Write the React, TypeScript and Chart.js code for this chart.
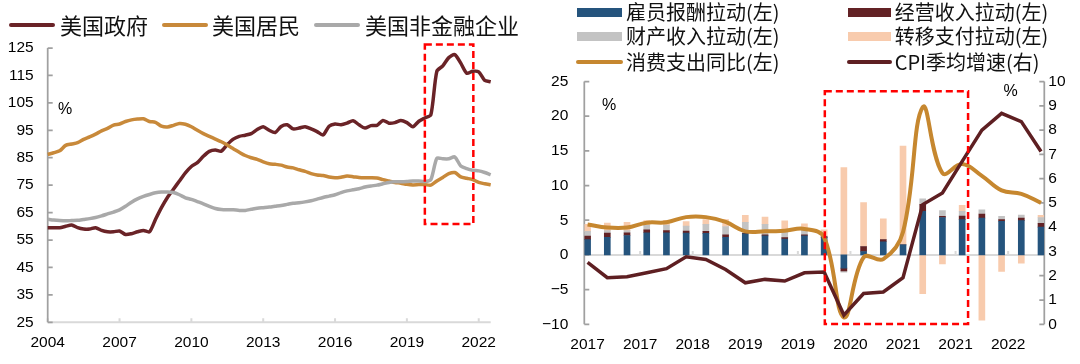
import React, { useEffect, useRef } from 'react';
import { Chart, registerables } from 'chart.js';

Chart.register(...registerables);

const LATIN = '"Liberation Sans", Arial, sans-serif';
const CJK = '"Noto Sans CJK SC", "Noto Sans", sans-serif';

// ---------------- Left chart: debt ratios (quarterly, 2004Q1 - 2022Q3) ----------------
const leftQuarters: string[] = [];
for (let y = 2004; y <= 2022; y++) for (let q = 1; q <= 4; q++) leftQuarters.push(`${y}Q${q}`);
leftQuarters.length = 75;

const leftTickYears = ['2004', '2007', '2010', '2013', '2016', '2019', '2022'];

const govDebt = [
  59.5, 59.5, 59.5, 60.0, 60.5, 59.5, 59.0, 59.0, 59.5, 58.5,
  58.0, 58.0, 58.3, 57.0, 57.3, 58.0, 58.5, 58.0, 62.5, 66.8,
  70.5, 73.5, 76.5, 79.5, 81.8, 83.2, 85.5, 87.3, 87.8, 87.4,
  89.8, 91.8, 92.8, 93.2, 93.8, 95.3, 96.3, 95.0, 94.2, 96.4,
  97.0, 95.5, 95.8, 96.3, 95.5, 94.5, 93.3, 96.5, 97.3, 97.0,
  97.6, 98.5, 97.0, 95.8, 96.7, 96.8, 98.6, 97.6, 97.8, 98.6,
  97.8, 96.3, 98.3, 99.5, 100.6, 116.5, 118.5, 121.5, 122.6, 119.5,
  115.8, 116.5, 116.3, 113.2, 112.7,
];

const householdDebt = [
  86.2, 86.8, 87.5, 89.5, 90.0, 90.5, 91.7, 92.6, 93.6, 94.8,
  95.7, 96.9, 97.3, 98.2, 98.8, 99.1, 99.2, 98.2, 97.9, 96.5,
  96.2, 96.8, 97.5, 97.2, 96.3, 95.0, 93.8, 92.8, 91.8, 90.8,
  89.6, 88.3, 87.0, 85.8, 85.0, 84.4, 83.5, 82.8, 82.6, 82.3,
  81.6, 81.3, 80.6, 80.0, 79.2, 78.7, 78.5, 78.0, 77.7, 77.9,
  78.3, 78.1, 77.8, 77.7, 77.7, 77.6, 77.0, 76.5, 76.0, 75.7,
  75.3, 75.1, 75.2, 75.2, 75.0, 76.5, 77.8, 79.2, 79.6, 78.0,
  77.5, 77.0, 76.0, 75.5, 75.1,
];

const corpDebt = [
  62.6, 62.3, 62.1, 62.0, 62.1, 62.2, 62.5, 62.8, 63.2, 63.8,
  64.5, 65.2, 66.0, 67.3, 68.8, 70.0, 70.9, 71.6, 72.2, 72.5,
  72.5, 72.3, 71.5, 70.4, 69.8, 69.0, 68.2, 67.3, 66.5, 66.1,
  66.0, 66.0, 65.8, 65.8, 66.2, 66.6, 66.8, 67.0, 67.3, 67.6,
  68.0, 68.4, 68.6, 68.9, 69.3, 69.9, 70.5, 71.0, 71.5, 72.3,
  72.9, 73.3, 73.7, 74.3, 74.7, 75.0, 75.5, 76.0, 76.2, 76.2,
  76.3, 76.5, 76.5, 76.3, 77.0, 84.8, 84.6, 84.6, 85.3, 82.0,
  81.0, 80.4, 80.2, 79.6, 78.8,
];

// ---------------- Right chart: income contributions (quarterly, 2017Q1 - 2022Q4) ----------------
const rightQuarters: string[] = [];
for (let y = 2017; y <= 2022; y++) for (let q = 1; q <= 4; q++) rightQuarters.push(`${y}Q${q}`);

const rightTickMonths = [0, 8, 16, 24, 32, 40, 48, 56, 64];
const rightTickLabels = ['2017', '2017', '2018', '2019', '2019', '2020', '2021', '2021', '2022'];

const compensation = [2.2, 2.55, 2.8, 3.2, 3.2, 3.15, 3.1, 2.55, 3.05, 2.75, 2.3, 2.75, 2.5, -1.9, 0.5, 1.9, 1.45, 6.3, 5.4, 5.1, 5.3, 4.85, 4.95, 4.0];
const business = [0.5, 0.6, 0.4, 0.4, 0.3, 0.3, 0.3, 0.35, 0.05, 0.15, 0.2, 0.15, 0.15, -0.4, 0.7, 0.3, 0.0, 1.0, 0.15, 0.5, 0.6, 0.25, 0.35, 0.55];
const propertyIncome = [0.7, 0.35, 0.3, 0.65, 0.8, 0.7, 1.0, 1.2, 1.6, 1.5, 1.1, 0.7, 0.1, -0.2, 0.05, 0.0, 0.05, 0.8, 0.85, 0.7, 0.6, 0.47, 0.45, 0.85];
const transfer = [1.0, 1.1, 1.2, 0.7, 0.7, 0.65, 0.7, 1.0, 1.0, 1.05, 1.3, 0.9, 0.85, 12.6, 6.3, 3.0, 14.2, -5.6, -1.3, 0.85, -9.4, -2.36, -1.2, 0.3];
const consumptionYoY = [4.4, 3.95, 3.95, 4.65, 4.7, 5.45, 5.45, 4.75, 3.4, 3.4, 3.5, 3.75, 2.5, -9.0, -0.35, -0.6, 3.3, 21.3, 11.8, 13.1, 11.4, 9.3, 8.8, 7.5];
const cpiQuarterly = [2.55, 1.92, 1.96, 2.12, 2.29, 2.78, 2.67, 2.26, 1.71, 1.85, 1.78, 2.12, 2.15, 0.38, 1.27, 1.33, 1.92, 4.93, 5.41, 6.71, 8.0, 8.69, 8.35, 7.12];

const C_GOV = '#6A2327';
const C_HH = '#C8893A';
const C_CORP = '#A9A9A9';
const C_BLUE = '#25547D';
const C_BIZ = '#632225';
const C_PROP = '#C3C3C3';
const C_TRANS = '#F8CBAD';
const C_CONS = '#C6872F';
const C_CPI = '#5E1F22';

const toXY = (arr: number[]) => arr.map((v, i) => ({ x: i * 3, y: v }));

const leftAxesPlugin = {
  id: 'leftAxes',
  beforeDatasetsDraw(chart: any) {
    const { ctx, chartArea: a, scales } = chart;
    ctx.save();
    ctx.strokeStyle = '#D9D9D9';
    ctx.lineWidth = 2;
    ctx.beginPath();
    ctx.moveTo(a.left, a.bottom);
    ctx.lineTo(a.right, a.bottom);
    for (let i = 0; i < leftQuarters.length; i += 12) {
      const px = scales.x.getPixelForValue(i);
      ctx.moveTo(px, a.bottom);
      ctx.lineTo(px, a.bottom - 4);
    }
    ctx.stroke();
    ctx.strokeStyle = '#A0A0A0';
    ctx.lineWidth = 1.75;
    ctx.beginPath();
    ctx.moveTo(a.left, a.top);
    ctx.lineTo(a.left, a.bottom);
    scales.y.ticks.forEach((t: any) => {
      const py = scales.y.getPixelForValue(t.value);
      ctx.moveTo(a.left, py);
      ctx.lineTo(a.left + 5, py);
    });
    ctx.stroke();
    ctx.restore();
  },
  afterDatasetsDraw(chart: any) {
    const { ctx, scales } = chart;
    const x0 = scales.x.getPixelForValue(63.0);
    const x1 = scales.x.getPixelForValue(71.1);
    const y0 = scales.y.getPixelForValue(126.3);
    const y1 = scales.y.getPixelForValue(60.8);
    ctx.save();
    ctx.strokeStyle = '#FF0000';
    ctx.lineWidth = 2.5;
    ctx.setLineDash([7, 4]);
    ctx.strokeRect(x0, y0, x1 - x0, y1 - y0);
    ctx.restore();
  },
};

const rightAxesPlugin = {
  id: 'rightAxes',
  beforeDatasetsDraw(chart: any) {
    const { ctx, chartArea: a, scales } = chart;
    ctx.save();
    const zy = scales.y.getPixelForValue(0);
    ctx.strokeStyle = '#D9D9D9';
    ctx.lineWidth = 2;
    ctx.beginPath();
    ctx.moveTo(a.left, zy);
    ctx.lineTo(a.right, zy);
    rightTickMonths.forEach((m) => {
      const px = scales.x.getPixelForValue(m);
      ctx.moveTo(px, zy);
      ctx.lineTo(px, zy - 4);
    });
    ctx.stroke();
    ctx.strokeStyle = '#A0A0A0';
    ctx.lineWidth = 1.75;
    ctx.beginPath();
    ctx.moveTo(a.left, a.top);
    ctx.lineTo(a.left, a.bottom);
    scales.y.ticks.forEach((t: any) => {
      const py = scales.y.getPixelForValue(t.value);
      ctx.moveTo(a.left, py);
      ctx.lineTo(a.left + 5, py);
    });
    ctx.moveTo(a.right, a.top);
    ctx.lineTo(a.right, a.bottom);
    scales.y1.ticks.forEach((t: any) => {
      const py = scales.y1.getPixelForValue(t.value);
      ctx.moveTo(a.right, py);
      ctx.lineTo(a.right - 5, py);
    });
    ctx.stroke();
    ctx.restore();
  },
  afterDatasetsDraw(chart: any) {
    const { ctx, scales } = chart;
    const x0 = scales.x.getPixelForValue(36.1);
    const x1 = scales.x.getPixelForValue(57.9);
    const y0 = scales.y.getPixelForValue(23.6);
    const y1 = scales.y.getPixelForValue(-9.95);
    ctx.save();
    ctx.strokeStyle = '#FF0000';
    ctx.lineWidth = 2.5;
    ctx.setLineDash([7, 4]);
    ctx.strokeRect(x0, y0, x1 - x0, y1 - y0);
    ctx.restore();
  },
};

function leftConfig(): any {
  const line = (label: string, data: number[], color: string, order: number) => ({
    label,
    data,
    borderColor: color,
    backgroundColor: color,
    borderWidth: 3.5,
    pointRadius: 0,
    tension: 0.25,
    fill: false,
    order,
  });
  return {
    type: 'line',
    data: {
      labels: leftQuarters,
      datasets: [
        line('美国政府', govDebt, C_GOV, 3),
        line('美国居民', householdDebt, C_HH, 2),
        line('美国非金融企业', corpDebt, C_CORP, 1),
      ],
    },
    options: {
      animation: false,
      responsive: false,
      maintainAspectRatio: false,
      events: [],
      layout: { padding: { top: 48, right: 49.3, bottom: 0, left: 0 } },
      plugins: { legend: { display: false }, tooltip: { enabled: false } },
      scales: {
        x: {
          type: 'category',
          offset: false,
          grid: { display: false, drawTicks: false },
          border: { display: false },
          ticks: {
            autoSkip: false,
            maxRotation: 0,
            minRotation: 0,
            padding: 11,
            color: '#000',
            font: { family: LATIN, size: 15.5 },
            callback: (_v: any, i: number) => (i % 12 === 0 ? leftTickYears[i / 12] : ''),
          },
          afterFit: (s: any) => {
            s.height = 41.7;
          },
        },
        y: {
          min: 25,
          max: 125,
          grid: { display: false, drawTicks: false },
          border: { display: false },
          ticks: {
            stepSize: 10,
            padding: 14,
            color: '#000',
            font: { family: LATIN, size: 15.5 },
          },
          afterFit: (s: any) => {
            s.width = 47.7;
          },
        },
      },
    },
    plugins: [leftAxesPlugin],
  };
}

function rightConfig(): any {
  const bar = (label: string, data: number[], color: string, order: number) => ({
    type: 'bar',
    label,
    data: toXY(data),
    backgroundColor: color,
    borderWidth: 0,
    barThickness: 6,
    stack: 'income',
    yAxisID: 'y',
    order,
  });
  return {
    type: 'bar',
    data: {
      datasets: [
        {
          type: 'line',
          label: 'CPI季均增速(右)',
          data: toXY(cpiQuarterly),
          borderColor: C_CPI,
          backgroundColor: C_CPI,
          borderWidth: 3.5,
          pointRadius: 0,
          tension: 0,
          yAxisID: 'y1',
          order: 0,
        },
        {
          type: 'line',
          label: '消费支出同比(左)',
          data: toXY(consumptionYoY),
          borderColor: C_CONS,
          backgroundColor: C_CONS,
          borderWidth: 4,
          pointRadius: 0,
          tension: 0.4,
          yAxisID: 'y',
          order: 1,
        },
        bar('雇员报酬拉动(左)', compensation, C_BLUE, 10),
        bar('经营收入拉动(左)', business, C_BIZ, 11),
        bar('财产收入拉动(左)', propertyIncome, C_PROP, 12),
        bar('转移支付拉动(左)', transfer, C_TRANS, 13),
      ],
    },
    options: {
      animation: false,
      responsive: false,
      maintainAspectRatio: false,
      events: [],
      layout: { padding: { top: 81.5, right: 0, bottom: 0, left: 0 } },
      plugins: { legend: { display: false }, tooltip: { enabled: false } },
      scales: {
        x: {
          type: 'linear',
          min: -0.5,
          max: 69.5,
          offset: false,
          grid: { display: false, drawTicks: false, offset: false },
          border: { display: false },
          afterBuildTicks: (s: any) => {
            s.ticks = rightTickMonths.map((v) => ({ value: v }));
          },
          ticks: {
            autoSkip: false,
            maxRotation: 0,
            minRotation: 0,
            padding: 11,
            color: '#000',
            font: { family: LATIN, size: 15.5 },
            callback: (v: any) => {
              const k = rightTickMonths.indexOf(Number(v));
              return k >= 0 ? rightTickLabels[k] : '';
            },
          },
          afterFit: (s: any) => {
            s.height = 39.7;
          },
        },
        y: {
          position: 'left',
          min: -10,
          max: 25,
          grid: { display: false, drawTicks: false },
          border: { display: false },
          ticks: {
            stepSize: 5,
            padding: 16,
            color: '#000',
            font: { family: LATIN, size: 15.5 },
            callback: (v: any) => String(v).replace('-', '\u2212'),
          },
          afterFit: (s: any) => {
            s.width = 44.3;
          },
        },
        y1: {
          position: 'right',
          min: 0,
          max: 10,
          grid: { display: false, drawTicks: false },
          border: { display: false },
          ticks: {
            stepSize: 1,
            padding: 4,
            color: '#000',
            font: { family: LATIN, size: 15.5 },
          },
          afterFit: (s: any) => {
            s.width = 35.7;
          },
        },
      },
    },
    plugins: [rightAxesPlugin],
  };
}

type LegendItem = { kind: 'line' | 'box'; color: string; x0: number; x1: number; cy: number; text: string; tx: number };

const leftLegend: LegendItem[] = [
  { kind: 'line', color: C_GOV, x0: 8.6, x1: 55, cy: 24.8, text: '美国政府', tx: 60 },
  { kind: 'line', color: C_HH, x0: 162, x1: 207.6, cy: 24.8, text: '美国居民', tx: 212 },
  { kind: 'line', color: C_CORP, x0: 314, x1: 360, cy: 24.8, text: '美国非金融企业', tx: 365 },
];

const rightLegend: LegendItem[] = [
  { kind: 'box', color: C_BLUE, x0: 577, x1: 621.6, cy: 12, text: '雇员报酬拉动(左)', tx: 626 },
  { kind: 'box', color: C_BIZ, x0: 847.5, x1: 891.2, cy: 12, text: '经营收入拉动(左)', tx: 894.7 },
  { kind: 'box', color: C_PROP, x0: 577, x1: 621.6, cy: 36, text: '财产收入拉动(左)', tx: 626 },
  { kind: 'box', color: C_TRANS, x0: 847.5, x1: 891.2, cy: 36, text: '转移支付拉动(左)', tx: 894.7 },
  { kind: 'line', color: C_CONS, x0: 576, x1: 622.6, cy: 62, text: '消费支出同比(左)', tx: 626 },
  { kind: 'line', color: C_CPI, x0: 846.5, x1: 891.5, cy: 62, text: 'CPI季均增速(右)', tx: 894.7 },
];

function Legend({ items, fontSize }: { items: LegendItem[]; fontSize: number }) {
  return (
    <>
      {items.map((it, i) => {
        const h = it.kind === 'box' ? 9 : 4;
        return (
          <React.Fragment key={i}>
            <div
              style={{
                position: 'absolute',
                left: it.x0,
                top: it.cy - h / 2,
                width: it.x1 - it.x0,
                height: h,
                background: it.color,
                borderRadius: it.kind === 'line' ? 2 : 0,
              }}
            />
            <div
              style={{
                position: 'absolute',
                left: it.tx,
                top: it.cy - fontSize * 0.7,
                height: fontSize * 1.4,
                lineHeight: `${fontSize * 1.4}px`,
                fontSize,
                fontFamily: CJK,
                color: '#111',
                whiteSpace: 'nowrap',
              }}
            >
              {it.text}
            </div>
          </React.Fragment>
        );
      })}
    </>
  );
}

function Pct({ cx, cy }: { cx: number; cy: number }) {
  return (
    <div
      style={{
        position: 'absolute',
        left: cx - 10,
        top: cy - 11,
        width: 20,
        height: 22,
        lineHeight: '22px',
        textAlign: 'center',
        fontSize: 16,
        fontFamily: LATIN,
        color: '#000',
      }}
    >
      %
    </div>
  );
}

export default function App() {
  const leftRef = useRef<HTMLCanvasElement>(null);
  const rightRef = useRef<HTMLCanvasElement>(null);

  useEffect(() => {
    const l = new Chart(leftRef.current as HTMLCanvasElement, leftConfig());
    const r = new Chart(rightRef.current as HTMLCanvasElement, rightConfig());
    return () => {
      l.destroy();
      r.destroy();
    };
  }, []);

  return (
    <div style={{ position: 'absolute', left: 0, top: 0, width: 1080, height: 364, background: '#fff', overflow: 'hidden' }}>
      <canvas ref={leftRef} width={540} height={364} style={{ position: 'absolute', left: 0, top: 0, width: 540, height: 364 }} />
      <canvas ref={rightRef} width={540} height={364} style={{ position: 'absolute', left: 540, top: 0, width: 540, height: 364 }} />
      <Legend items={leftLegend} fontSize={22} />
      <Legend items={rightLegend} fontSize={20} />
      <Pct cx={65} cy={109} />
      <Pct cx={609} cy={105} />
      <Pct cx={1010.5} cy={90.5} />
    </div>
  );
}
